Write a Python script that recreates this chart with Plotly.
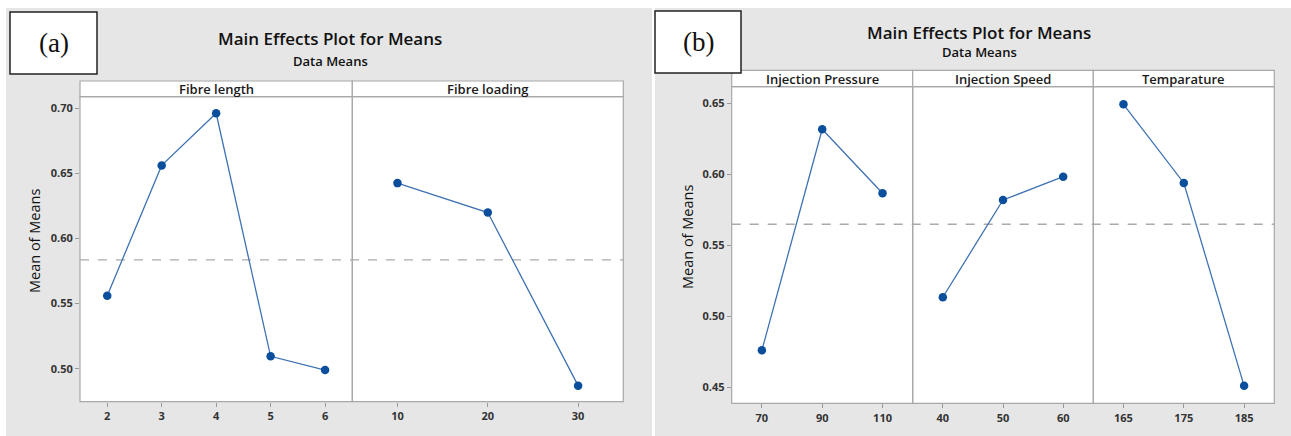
import plotly.graph_objects as go

W, H = 1291, 436

# ---------------- data ----------------
fibre_length_x = [2, 3, 4, 5, 6]
fibre_length_y = [0.556, 0.656, 0.696, 0.5095, 0.499]
fibre_loading_x = [10, 20, 30]
fibre_loading_y = [0.6424, 0.6198, 0.487]
grand_mean_a = 0.5835

inj_pressure_x = [70, 90, 110]
inj_pressure_y = [0.476, 0.6317, 0.5866]
inj_speed_x = [40, 50, 60]
inj_speed_y = [0.5134, 0.5819, 0.5983]
temperature_x = [165, 175, 185]
temperature_y = [0.6493, 0.5939, 0.451]
grand_mean_b = 0.5648

yticks_a = [0.50, 0.55, 0.60, 0.65, 0.70]
yticks_b = [0.45, 0.50, 0.55, 0.60, 0.65]
panel_titles_a = ["Fibre length", "Fibre loading"]
panel_titles_b = ["Injection Pressure", "Injection Speed", "Temparature"]

# ---------------- helpers ----------------
def px(x):
    return x / W

def py(y):
    return 1 - y / H

FONT = "Open Sans"
LINE_C = "#3f72b3"
MARK_C = "#0b4f9c"
FRAME_C = "#a8a8a8"
BG = "#e6e6e6"
SEMI = 600

fig = go.Figure()

series = [
    (fibre_length_x, fibre_length_y, "x", "y"),
    (fibre_loading_x, fibre_loading_y, "x2", "y2"),
    (inj_pressure_x, inj_pressure_y, "x3", "y3"),
    (inj_speed_x, inj_speed_y, "x4", "y4"),
    (temperature_x, temperature_y, "x5", "y5"),
]
for xs, ys, xa, ya in series:
    fig.add_trace(go.Scatter(
        x=xs, y=ys, xaxis=xa, yaxis=ya, mode="lines+markers",
        line=dict(color=LINE_C, width=1.3),
        marker=dict(color=MARK_C, size=8.5),
        showlegend=False, hoverinfo="x+y"))

# panel geometry (pixels)
top_a, bot_a = 96.7, 401.7
top_b, bot_b = 86.7, 403.3
xpanels_a = [(80, 352.3, [1.5, 6.5], fibre_length_x),
             (352.3, 623.3, [5, 35], fibre_loading_x)]
xpanels_b = [(731.7, 912.7, [60, 120], inj_pressure_x),
             (912.7, 1093.3, [35, 65], inj_speed_x),
             (1093.3, 1274.3, [160, 190], temperature_x)]

tickfont = dict(family=FONT, size=11, color="#333333", weight="bold")

layout = dict(
    width=W, height=H, margin=dict(l=0, r=0, t=0, b=0),
    paper_bgcolor="white", plot_bgcolor="white",
    font=dict(family=FONT, color="#222222"),
)

allx = [(p, "a") for p in xpanels_a] + [(p, "b") for p in xpanels_b]
for i, ((x0, x1, rng, ticks), grp) in enumerate(allx, start=1):
    key = "xaxis" if i == 1 else f"xaxis{i}"
    ykey = "yaxis" if i == 1 else f"yaxis{i}"
    top, bot = (top_a, bot_a) if grp == "a" else (top_b, bot_b)
    yrng = [0.4747, 0.7087] if grp == "a" else [0.4387, 0.6617]
    yt = yticks_a if grp == "a" else yticks_b
    layout[key] = dict(
        domain=[px(x0), px(x1)], range=rng, anchor="y" if i == 1 else f"y{i}",
        tickmode="array", tickvals=ticks, ticktext=[str(t) for t in ticks],
        ticks="outside", ticklen=4, tickcolor="#999999", tickfont=tickfont,
        showgrid=False, zeroline=False, showline=False, fixedrange=True)
    first = (i == 1 or i == 3)
    layout[ykey] = dict(
        domain=[py(bot), py(top)], range=yrng,
        anchor="x" if i == 1 else f"x{i}",
        tickmode="array", tickvals=yt, ticktext=[f"{v:.2f}" for v in yt],
        ticks="outside" if first else "", ticklen=4, tickcolor="#999999",
        showticklabels=first, tickfont=tickfont,
        showgrid=False, zeroline=False, showline=False, fixedrange=True)

fig.update_layout(**layout)

shapes = []
annotations = []

# gray backgrounds
shapes.append(dict(type="rect", xref="paper", yref="paper", x0=px(6), x1=px(652),
                   y0=py(436), y1=py(8), fillcolor=BG, line=dict(width=0), layer="below"))
shapes.append(dict(type="rect", xref="paper", yref="paper", x0=px(655), x1=px(1291),
                   y0=py(436), y1=py(8), fillcolor=BG, line=dict(width=0), layer="below"))

allpanels = [((x0, x1), grp) for (x0, x1, r, t), grp in allx]
# white plot areas
for (x0, x1), grp in allpanels:
    top, bot = (top_a, bot_a) if grp == "a" else (top_b, bot_b)
    shapes.append(dict(type="rect", xref="paper", yref="paper", x0=px(x0), x1=px(x1),
                       y0=py(bot), y1=py(top), fillcolor="white", line=dict(width=0),
                       layer="below"))

# grand mean dashed lines
shapes.append(dict(type="line", xref="paper", yref="y", x0=px(80), x1=px(623.3),
                   y0=grand_mean_a, y1=grand_mean_a,
                   line=dict(color="#aaaaaa", width=1.3, dash="dash"), layer="below"))
shapes.append(dict(type="line", xref="paper", yref="y3", x0=px(731.7), x1=px(1274.3),
                   y0=grand_mean_b, y1=grand_mean_b,
                   line=dict(color="#aaaaaa", width=1.3, dash="dash"), layer="below"))

# frames for each facet
for (x0, x1), grp in allpanels:
    top, bot = (top_a, bot_a) if grp == "a" else (top_b, bot_b)
    shapes.append(dict(type="rect", xref="paper", yref="paper", x0=px(x0), x1=px(x1),
                       y0=py(bot), y1=py(top), line=dict(color=FRAME_C, width=1.2),
                       fillcolor="rgba(0,0,0,0)", layer="above"))

# strips
strips = [(xpanels_a[i][0], xpanels_a[i][1], 81, top_a, panel_titles_a[i]) for i in range(2)] + \
         [(xpanels_b[i][0], xpanels_b[i][1], 70.3, top_b, panel_titles_b[i]) for i in range(3)]
for x0, x1, s0, s1, txt in strips:
    shapes.append(dict(type="rect", xref="paper", yref="paper", x0=px(x0), x1=px(x1),
                       y0=py(s1), y1=py(s0), fillcolor="white",
                       line=dict(color=FRAME_C, width=1.2)))
    annotations.append(dict(xref="paper", yref="paper", x=px((x0 + x1) / 2), y=py((s0 + s1) / 2),
                            text=txt, showarrow=False, xanchor="center", yanchor="middle",
                            font=dict(family=FONT, size=13, color="#1a1a1a", weight=SEMI)))

# label boxes
for (x0, x1, y0, y1, lab) in [(10, 97, 12, 74, "(a)"), (655, 741, 11, 73, "(b)")]:
    shapes.append(dict(type="rect", xref="paper", yref="paper", x0=px(x0), x1=px(x1),
                       y0=py(y1), y1=py(y0), fillcolor="white",
                       line=dict(color="#222222", width=1.5)))
    annotations.append(dict(xref="paper", yref="paper", x=px((x0 + x1) / 2), y=py((y0 + y1) / 2),
                            text=lab, showarrow=False, xanchor="center", yanchor="middle",
                            font=dict(family="Liberation Serif", size=27, color="#111111")))

# titles
for cx, ty, sy in [(330, 38, 61), (979, 32, 52)]:
    annotations.append(dict(xref="paper", yref="paper", x=px(cx), y=py(ty),
                            text="Main Effects Plot for Means", showarrow=False,
                            xanchor="center", yanchor="middle",
                            font=dict(family=FONT, size=17, color="#111111", weight=SEMI)))
    annotations.append(dict(xref="paper", yref="paper", x=px(cx), y=py(sy),
                            text="Data Means", showarrow=False,
                            xanchor="center", yanchor="middle",
                            font=dict(family=FONT, size=13, color="#111111", weight=SEMI)))

# y axis titles
for cx, cy in [(35, 241), (687, 237)]:
    annotations.append(dict(xref="paper", yref="paper", x=px(cx), y=py(cy),
                            text="Mean of Means", showarrow=False, textangle=-90,
                            xanchor="center", yanchor="middle",
                            font=dict(family=FONT, size=14.5, color="#111111")))

fig.update_layout(shapes=shapes, annotations=annotations)
fig.write_html("out.html")
